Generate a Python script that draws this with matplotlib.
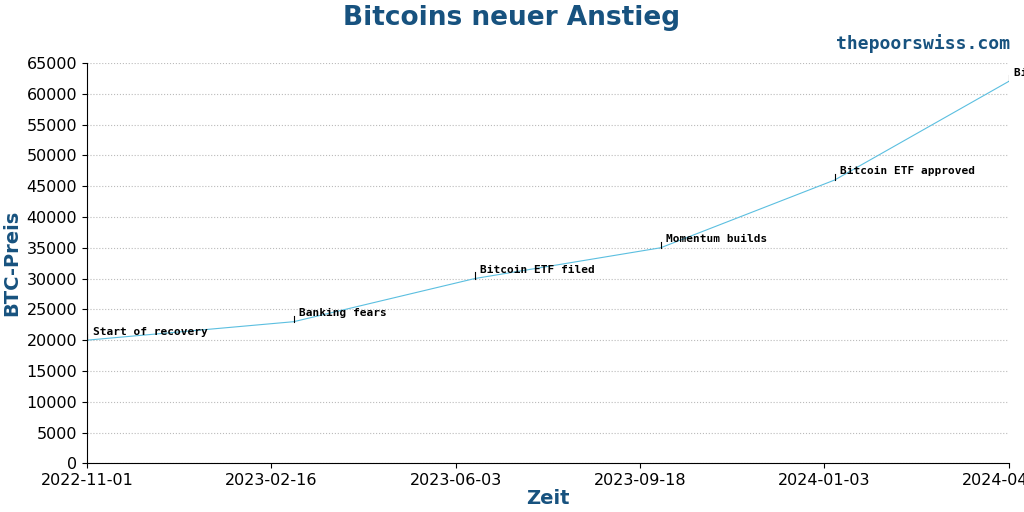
import matplotlib
matplotlib.use("Agg")
import matplotlib.pyplot as plt
import matplotlib.dates as mdates
import pandas as pd

dates = ["2022-11-01", "2023-03-01", "2023-06-14", "2023-09-30", "2024-01-09", "2024-04-19"]
prices = [20000, 23000, 30000, 35000, 46000, 62000]
labels = ["Start of recovery", "Banking fears", "Bitcoin ETF filed", "Momentum builds", "Bitcoin ETF approved", "Bitcoin halving"]
ticks = ["2022-11-01", "2023-02-16", "2023-06-03", "2023-09-18", "2024-01-03", "2024-04-19"]

d = pd.to_datetime(dates)
blue = "#17527f"
fig, ax = plt.subplots(figsize=(10.24, 5.12), dpi=100)
fig.subplots_adjust(left=0.085, right=0.985, top=0.877, bottom=0.095)
ax.plot(d, prices, color="#5bbfe0", lw=0.8)
for x, y, t in zip(d, prices, labels):
    ax.plot([x, x], [y, y + 1000], color="black", lw=0.8)
    ax.annotate(t, (x, y), xytext=(4, 4), textcoords="offset points", fontsize=8,
                family="DejaVu Sans Mono", fontweight="bold", annotation_clip=False)
ax.set_xlim(pd.Timestamp(ticks[0]), pd.Timestamp(ticks[-1]))
ax.set_ylim(0, 65000)
ax.set_xticks(pd.to_datetime(ticks))
ax.xaxis.set_major_formatter(mdates.DateFormatter("%Y-%m-%d"))
ax.set_yticks(range(0, 65001, 5000))
ax.tick_params(labelsize=11.5)
ax.grid(axis="y", ls=":", color="#bbbbbb")
for s in ["top", "right"]:
    ax.spines[s].set_visible(False)
ax.set_xlabel("Zeit", fontsize=14, fontweight="bold", color=blue, labelpad=1)
ax.set_ylabel("BTC-Preis", fontsize=14, fontweight="bold", color=blue)
fig.suptitle("Bitcoins neuer Anstieg", fontsize=19, fontweight="bold", color=blue, y=0.99)
fig.text(0.986, 0.905, "thepoorswiss.com", ha="right", fontsize=13, fontweight="bold",
         family="DejaVu Sans Mono", color=blue)
fig.savefig("out.png")
